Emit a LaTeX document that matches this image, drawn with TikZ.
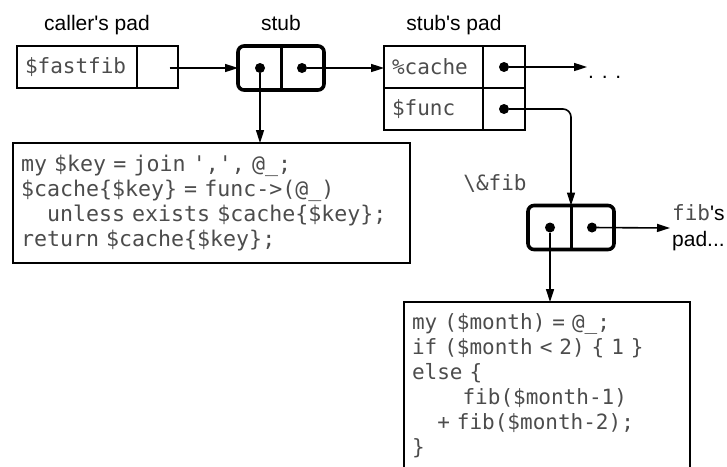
\documentclass[tikz,border=0pt]{standalone}
\usepackage{fontspec}
\setmainfont{Liberation Sans}
\setmonofont{DejaVu Sans Mono}
\usepackage{tikz}
\usetikzlibrary{arrows.meta,positioning}
\definecolor{codegray}{gray}{0.3}
\newcommand{\codefont}{\ttfamily\fontsize{21}{25}\selectfont}
\newcommand{\bigcodefont}{\ttfamily\fontsize{21.6}{25}\selectfont}
\newcommand{\ptr}[2] % {name}{at}
{
	\node[ptrdot] (#1) at (#2) {};
}
\tikzset{
	padcell/.style={draw, line width=2.6pt, outer sep=0pt, minimum height=42pt, inner xsep=8pt, inner ysep=0pt, font=\codefont, text=codegray, align=left},
	stubbox/.style={draw, line width=3.6pt, outer sep=0pt, rounded corners=6pt, minimum width=86pt, minimum height=44pt, inner sep=0pt},
	ptrdot/.style={circle, fill, inner sep=0pt, minimum size=10pt},
	ptrarrow/.style={line width=1.6pt, -{Triangle[length=13pt,width=8pt]}},
	codebox/.style={line width=2.8pt, outer sep=0pt, inner xsep=8pt, inner ysep=12pt, font=\codefont, text=codegray, align=left, anchor=north west},
	padlabel/.style={font=\fontsize{21}{25}\selectfont, anchor=base}
}

\begin{document}
\begin{tikzpicture}[x=1pt,y=-1pt]

	\useasboundingbox (0,0) rectangle (727,466);
	\clip (0,0) rectangle (727,466);

	% les etiquettes
	\node[padlabel] (callerlbl) at (97,30) {caller\textquotesingle s pad};
	\node[padlabel] (stublbl) at (281,30) {stub};
	\node[padlabel] (padlbl) at (454,30) {stub\textquotesingle s pad};

	% caller's pad
	\node[padcell, text width=104pt, anchor=north west] (fastfib) at (17,46) {\$fastfib};
	\node[padcell, minimum width=41pt, right=0pt of fastfib] (fastptr) {};
	\coordinate (fastref) at ([xshift=12pt]fastptr.center);

	% stub
	\node[stubbox] (stub) at (281,68) {};
	\draw[line width=3pt] (stub.north) -- (stub.south);
	\ptr{stubcode}{[xshift=-21pt]stub.center}
	\ptr{stubpad}{[xshift=21pt]stub.center}

	% stub's pad
	\node[padcell, text width=83pt, anchor=north west] (cache) at (384,46) {\%cache};
	\node[padcell, minimum width=42pt, right=0pt of cache] (cacheptr) {};
	\node[padcell, text width=83pt, below=0pt of cache] (func) {\$func};
	\node[padcell, minimum width=42pt, right=0pt of func] (funcptr) {};
	\ptr{cachedot}{cacheptr.center}
	\ptr{funcdot}{funcptr.center}
	\node[padlabel, anchor=base west, inner sep=1pt] (etc) at (587,78) {. . .};

	% stub de fib
	\node[stubbox] (fibstub) at (571,227.5) {};
	\draw[line width=3pt] (fibstub.north) -- (fibstub.south);
	\ptr{fibcode}{[xshift=-21pt]fibstub.center}
	\ptr{fibpaddot}{[xshift=21pt]fibstub.center}
	\node[font=\codefont, text=codegray] (fibref) at (495,183) {\textbackslash\&fib};
	\node[font=\fontsize{21}{26}\selectfont, anchor=west, align=left, inner sep=2pt] (fibpad) at (670,228) {{\codefont\color{codegray}fib}\textquotesingle s\\pad...};

	% le code
	\node[codebox, draw, font=\bigcodefont, text width=381pt] (code1) at (13,143) {%
		my \$key = join ',', @\_;\\
		\$cache\{\$key\} = func->(@\_)\\
		\phantom{xx}unless exists \$cache\{\$key\};\\
		return \$cache\{\$key\};};
	\node[codebox, inner xsep=8pt, text width=270pt] (code2) at (404,302) {%
		my (\$month) = @\_;\\
		if (\$month < 2) \{ 1 \}\\
		else \{\\
		\phantom{xxxx}fib(\$month-1)\\
		\phantom{xx}+ fib(\$month-2);\\
		\}};
	\draw[line width=2.8pt] ([yshift=-40pt]code2.south west) -- (code2.north west) -- (code2.north east) -- ([yshift=-40pt]code2.south east);

	% les pointeurs
	\draw[ptrarrow] (fastref |- stub.west) -- (stub.west);
	\draw[ptrarrow] (stubpad) -- (stubpad -| cache.west);
	\draw[ptrarrow] (stubcode) -- (stubcode |- code1.north);
	\draw[ptrarrow] (cachedot) -- (cachedot -| etc.west);
	\draw[ptrarrow, rounded corners=8pt] (funcdot) -| (fibstub.north);
	\draw[ptrarrow] (fibpaddot) -- (fibpad.west);
	\draw[ptrarrow] (fibcode) -- (fibcode |- code2.north);

\end{tikzpicture}
\end{document}
